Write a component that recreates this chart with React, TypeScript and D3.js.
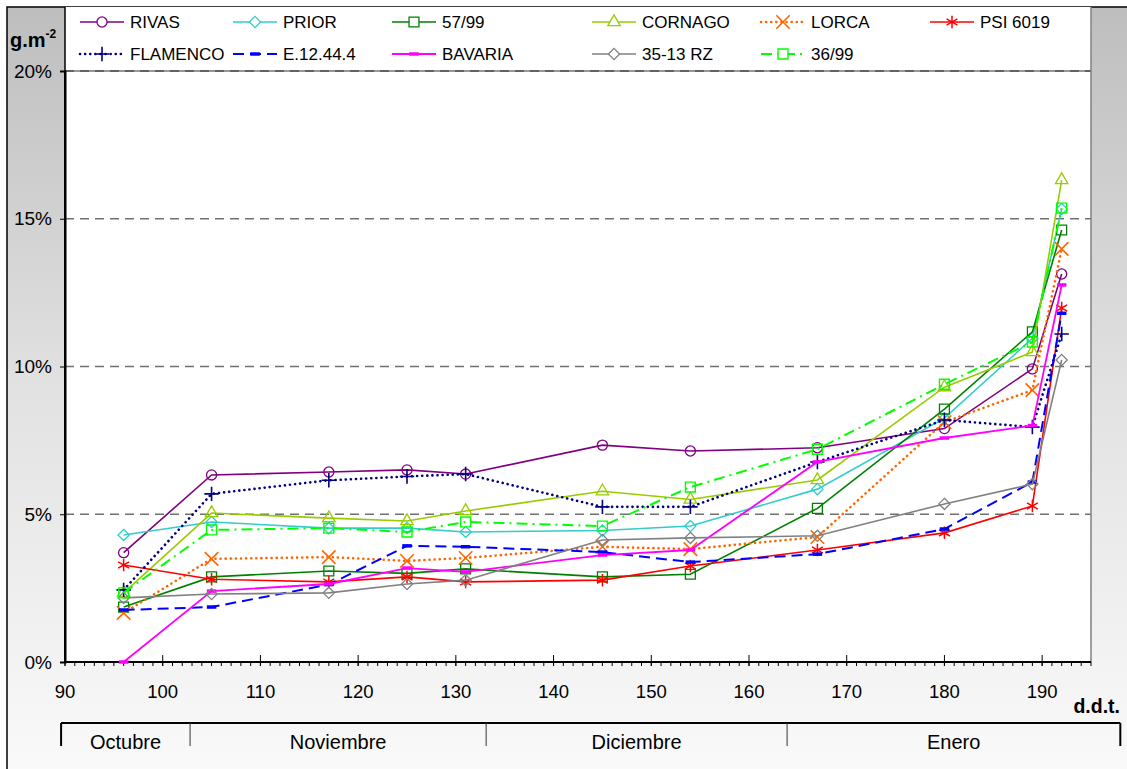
import * as d3 from 'd3'
import { useRef, useEffect } from 'react'

// days after sowing (d.d.t.)
const days = [96, 105, 117, 125, 131, 145, 154, 167, 180, 189, 192]

// values in % (g.m-2)
const rivas = [3.7, 6.33, 6.43, 6.5, 6.36, 7.34, 7.14, 7.25, 7.9, 9.92, 13.13]
const prior = [4.3, 4.74, 4.53, 4.53, 4.4, 4.45, 4.6, 5.85, 8.25, 10.95, 15.33]
const l5799 = [1.86, 2.88, 3.08, 3.0, 3.15, 2.88, 2.97, 5.2, 8.56, 11.17, 14.62]
const cornago = [2.34, 5.04, 4.87, 4.77, 5.11, 5.78, 5.5, 6.16, 9.3, 10.49, 16.31]
const lorca = [1.66, 3.49, 3.55, 3.42, 3.52, 3.9, 3.82, 4.23, 8.12, 9.2, 13.98]
const psi6019 = [3.28, 2.8, 2.71, 2.88, 2.71, 2.77, 3.25, 3.79, 4.37, 5.28, 11.98]
const flamenco = [2.44, 5.69, 6.15, 6.28, 6.36, 5.25, 5.25, 6.77, 8.19, 7.95, 11.1]
const e124 = [1.76, 1.86, 2.62, 3.93, 3.9, 3.72, 3.38, 3.65, 4.5, 6.09, 11.8]
const bavaria = [0, 2.4, 2.64, 3.18, 3.05, 3.62, 3.79, 6.77, 7.58, 8.0, 12.76]
const rz3513 = [2.17, 2.3, 2.34, 2.64, 2.77, 4.13, 4.2, 4.27, 5.35, 6.02, 10.22]
const l3699 = [2.34, 4.47, 4.53, 4.4, 4.74, 4.6, 5.92, 7.2, 9.4, 10.83, 15.36]

const seriesNames = ['RIVAS', 'PRIOR', '57/99', 'CORNAGO', 'LORCA', 'PSI 6019', 'FLAMENCO', 'E.12.44.4', 'BAVARIA', '35-13 RZ', '36/99']
const seriesValues = [rivas, prior, l5799, cornago, lorca, psi6019, flamenco, e124, bavaria, rz3513, l3699]

const yTicks = [0, 5, 10, 15, 20]
const xTicks = [90, 100, 110, 120, 130, 140, 150, 160, 170, 180, 190]
const monthNames = ['Octubre', 'Noviembre', 'Diciembre', 'Enero']
const monthBounds = [89.6, 102.8, 133.1, 163.9, 198]

const dashSymbol = {
  draw(ctx, size) {
    const r = Math.sqrt(size) / 2
    ctx.moveTo(-r, 0)
    ctx.lineTo(r, 0)
  }
}

const styles = [
  { color: '#800080', dash: null, width: 1.6, symbol: d3.symbolCircle, size: 80, mw: 1.3 },
  { color: '#33cccc', dash: null, width: 1.6, symbol: d3.symbolDiamond2, size: 80, mw: 1.3 },
  { color: '#008000', dash: null, width: 1.6, symbol: d3.symbolSquare2, size: 125, mw: 1.3 },
  { color: '#99cc00', dash: null, width: 1.6, symbol: d3.symbolTriangle2, size: 110, mw: 1.3 },
  { color: '#ff6600', dash: '0.1,5', width: 2.6, symbol: d3.symbolTimes, size: 120, mw: 1.6, cap: 'round' },
  { color: '#ff0000', dash: null, width: 1.6, symbol: d3.symbolAsterisk, size: 110, mw: 1.5 },
  { color: '#000080', dash: '0.1,5', width: 2.6, symbol: d3.symbolPlus, size: 70, mw: 1.6, cap: 'round' },
  { color: '#0000ff', dash: '11,6', width: 2, symbol: dashSymbol, size: 90, mw: 3.5 },
  { color: '#ff00ff', dash: null, width: 1.8, symbol: dashSymbol, size: 90, mw: 3.5 },
  { color: '#808080', dash: null, width: 1.6, symbol: d3.symbolDiamond2, size: 80, mw: 1.3 },
  { color: '#00ff00', dash: '11,5,2,5', width: 2, symbol: d3.symbolSquare2, size: 125, mw: 1.4 }
]

const FONT = "Arial, 'Liberation Sans', sans-serif"

const App = () => {
  const ref = useRef(null)

  useEffect(() => {
    draw()
  }, [])

  const draw = () => {
    const W = 1127
    const H = 769
    const plot = { left: 65, right: 1091, top: 71, bottom: 662 }

    const svg = d3.select(ref.current).attr('width', W).attr('height', H)
    svg.selectAll('*').remove()

    const defs = svg.append('defs')
    const grad = defs
      .append('linearGradient')
      .attr('id', 'bg')
      .attr('x1', 0)
      .attr('y1', 0)
      .attr('x2', 0)
      .attr('y2', 1)
    grad.append('stop').attr('offset', '0%').attr('stop-color', '#bebebe')
    grad.append('stop').attr('offset', '50%').attr('stop-color', '#e2e2e2')
    grad.append('stop').attr('offset', '100%').attr('stop-color', '#fafafa')

    svg.append('rect').attr('x', 7).attr('y', 7).attr('width', W).attr('height', H)
      .attr('fill', 'url(#bg)').attr('stroke', '#000').attr('stroke-width', 1.5)

    const x = d3.scaleLinear().domain([90, 195]).range([plot.left, plot.right])
    const y = d3.scaleLinear().domain([0, 20]).range([plot.bottom, plot.top])

    // legend box + plot area
    svg.append('rect').attr('x', plot.left).attr('y', 7).attr('width', plot.right - plot.left)
      .attr('height', plot.top - 7).attr('fill', '#fff')
    svg.append('rect').attr('x', plot.left).attr('y', plot.top).attr('width', plot.right - plot.left)
      .attr('height', plot.bottom - plot.top).attr('fill', '#fff')

    // gridlines
    svg.append('g')
      .selectAll('line')
      .data(yTicks.filter((d) => d > 0))
      .enter()
      .append('line')
      .attr('x1', plot.left)
      .attr('x2', plot.right)
      .attr('y1', (d) => y(d))
      .attr('y2', (d) => y(d))
      .attr('stroke', '#707070')
      .attr('stroke-width', 1.3)
      .attr('stroke-dasharray', '9,6')

    svg.append('line').attr('x1', plot.left).attr('x2', plot.right).attr('y1', plot.top).attr('y2', plot.top)
      .attr('stroke', '#333').attr('stroke-width', 1.2)
    svg.append('line').attr('x1', plot.right).attr('x2', plot.right).attr('y1', 7).attr('y2', plot.bottom)
      .attr('stroke', '#808080').attr('stroke-width', 1.5)
    svg.append('line').attr('x1', plot.left).attr('x2', plot.left).attr('y1', 7).attr('y2', plot.top)
      .attr('stroke', '#000').attr('stroke-width', 1.5)

    // y axis
    const yAxis = svg.append('g')
      .attr('transform', `translate(${plot.left},0)`)
      .call(d3.axisLeft(y).tickValues(yTicks).tickSize(5).tickPadding(8).tickFormat((d) => d + '%'))
    yAxis.select('.domain').attr('stroke', '#000').attr('stroke-width', 2)
    yAxis.selectAll('text').attr('font-size', 19).attr('font-family', FONT).attr('fill', '#000')

    // x axis: minor ticks below, major ticks above
    const minor = d3.range(90, 196, 1)
    svg.append('g')
      .selectAll('line')
      .data(minor)
      .enter()
      .append('line')
      .attr('x1', (d) => x(d))
      .attr('x2', (d) => x(d))
      .attr('y1', plot.bottom)
      .attr('y2', plot.bottom + 4)
      .attr('stroke', '#000')
      .attr('stroke-width', 1)
    svg.append('g')
      .selectAll('line')
      .data(xTicks)
      .enter()
      .append('line')
      .attr('x1', (d) => x(d))
      .attr('x2', (d) => x(d))
      .attr('y1', plot.bottom - 7)
      .attr('y2', plot.bottom + 4)
      .attr('stroke', '#000')
      .attr('stroke-width', 1)
    svg.append('line').attr('x1', plot.left).attr('x2', plot.right).attr('y1', plot.bottom).attr('y2', plot.bottom)
      .attr('stroke', '#000').attr('stroke-width', 2)
    svg.append('line').attr('x1', plot.left).attr('x2', plot.left).attr('y1', plot.top).attr('y2', plot.bottom)
      .attr('stroke', '#000').attr('stroke-width', 2)
    svg.append('g')
      .selectAll('text')
      .data(xTicks)
      .enter()
      .append('text')
      .attr('x', (d) => x(d))
      .attr('y', 698)
      .attr('text-anchor', 'middle')
      .attr('font-size', 18.5)
      .attr('font-family', FONT)
      .text((d) => d)

    svg.append('text').attr('x', 1120).attr('y', 713).attr('text-anchor', 'end')
      .attr('font-size', 19.5).attr('font-weight', 'bold').attr('font-family', FONT).text('d.d.t.')

    const unit = svg.append('text').attr('x', 10).attr('y', 47)
      .attr('font-size', 20).attr('font-weight', 'bold').attr('font-family', FONT)
    unit.append('tspan').text('g.m')
    unit.append('tspan').attr('dy', -9).attr('font-size', 12).text('-2')

    // month brackets
    const mb = svg.append('g')
    mb.append('line').attr('x1', x(monthBounds[0])).attr('x2', x(monthBounds[monthBounds.length - 1]))
      .attr('y1', 723).attr('y2', 723).attr('stroke', '#000').attr('stroke-width', 2)
    mb.selectAll('.sep')
      .data(monthBounds)
      .enter()
      .append('line')
      .attr('x1', (d) => x(d))
      .attr('x2', (d) => x(d))
      .attr('y1', 723)
      .attr('y2', 746)
      .attr('stroke', (d, i) => (i === 0 || i === monthBounds.length - 1 ? '#000' : '#333'))
      .attr('stroke-width', (d, i) => (i === 0 || i === monthBounds.length - 1 ? 2 : 1))
    mb.selectAll('text')
      .data(monthNames)
      .enter()
      .append('text')
      .attr('x', (d, i) => (x(monthBounds[i]) + x(monthBounds[i + 1])) / 2)
      .attr('y', 749)
      .attr('text-anchor', 'middle')
      .attr('font-size', 20)
      .attr('font-family', FONT)
      .text((d) => d)

    // series
    const line = d3.line().x((d) => x(d[0])).y((d) => y(d[1]))
    const plotG = svg.append('g')
    seriesValues.forEach((vals, i) => {
      const s = styles[i]
      const pts = days.map((d, j) => [d, vals[j]])
      plotG.append('path')
        .attr('d', line(pts))
        .attr('fill', 'none')
        .attr('stroke', s.color)
        .attr('stroke-width', s.width)
        .attr('stroke-linecap', s.cap || 'butt')
        .attr('stroke-dasharray', s.dash)
      plotG.append('g')
        .selectAll('path')
        .data(pts)
        .enter()
        .append('path')
        .attr('transform', (d) => `translate(${x(d[0])},${y(d[1])})`)
        .attr('d', d3.symbol(s.symbol, s.size)())
        .attr('fill', 'none')
        .attr('stroke', s.color)
        .attr('stroke-width', s.mw)
    })

    // legend
    const colX = [80, 233, 392, 592, 761, 930]
    const rowY = [22, 54]
    const leg = svg.append('g')
      .selectAll('g')
      .data(seriesNames)
      .enter()
      .append('g')
      .attr('transform', (d, i) => `translate(${colX[i % 6]},${rowY[Math.floor(i / 6)]})`)
    leg.append('line')
      .attr('x1', 0)
      .attr('x2', 44)
      .attr('stroke', (d, i) => styles[i].color)
      .attr('stroke-width', (d, i) => styles[i].width)
      .attr('stroke-linecap', (d, i) => styles[i].cap || 'butt')
      .attr('stroke-dasharray', (d, i) => styles[i].dash)
    leg.append('path')
      .attr('transform', 'translate(22,0)')
      .attr('d', (d, i) => d3.symbol(styles[i].symbol, styles[i].size)())
      .attr('fill', '#fff')
      .attr('stroke', (d, i) => styles[i].color)
      .attr('stroke-width', (d, i) => styles[i].mw)
    leg.append('text')
      .attr('x', 50)
      .attr('dy', '0.35em')
      .attr('font-size', 17)
      .attr('font-family', FONT)
      .text((d) => d)
  }

  return (
    <div>
      <svg ref={ref} style={{ position: 'absolute', left: 0, top: 0 }}></svg>
    </div>
  )
}

export default App
